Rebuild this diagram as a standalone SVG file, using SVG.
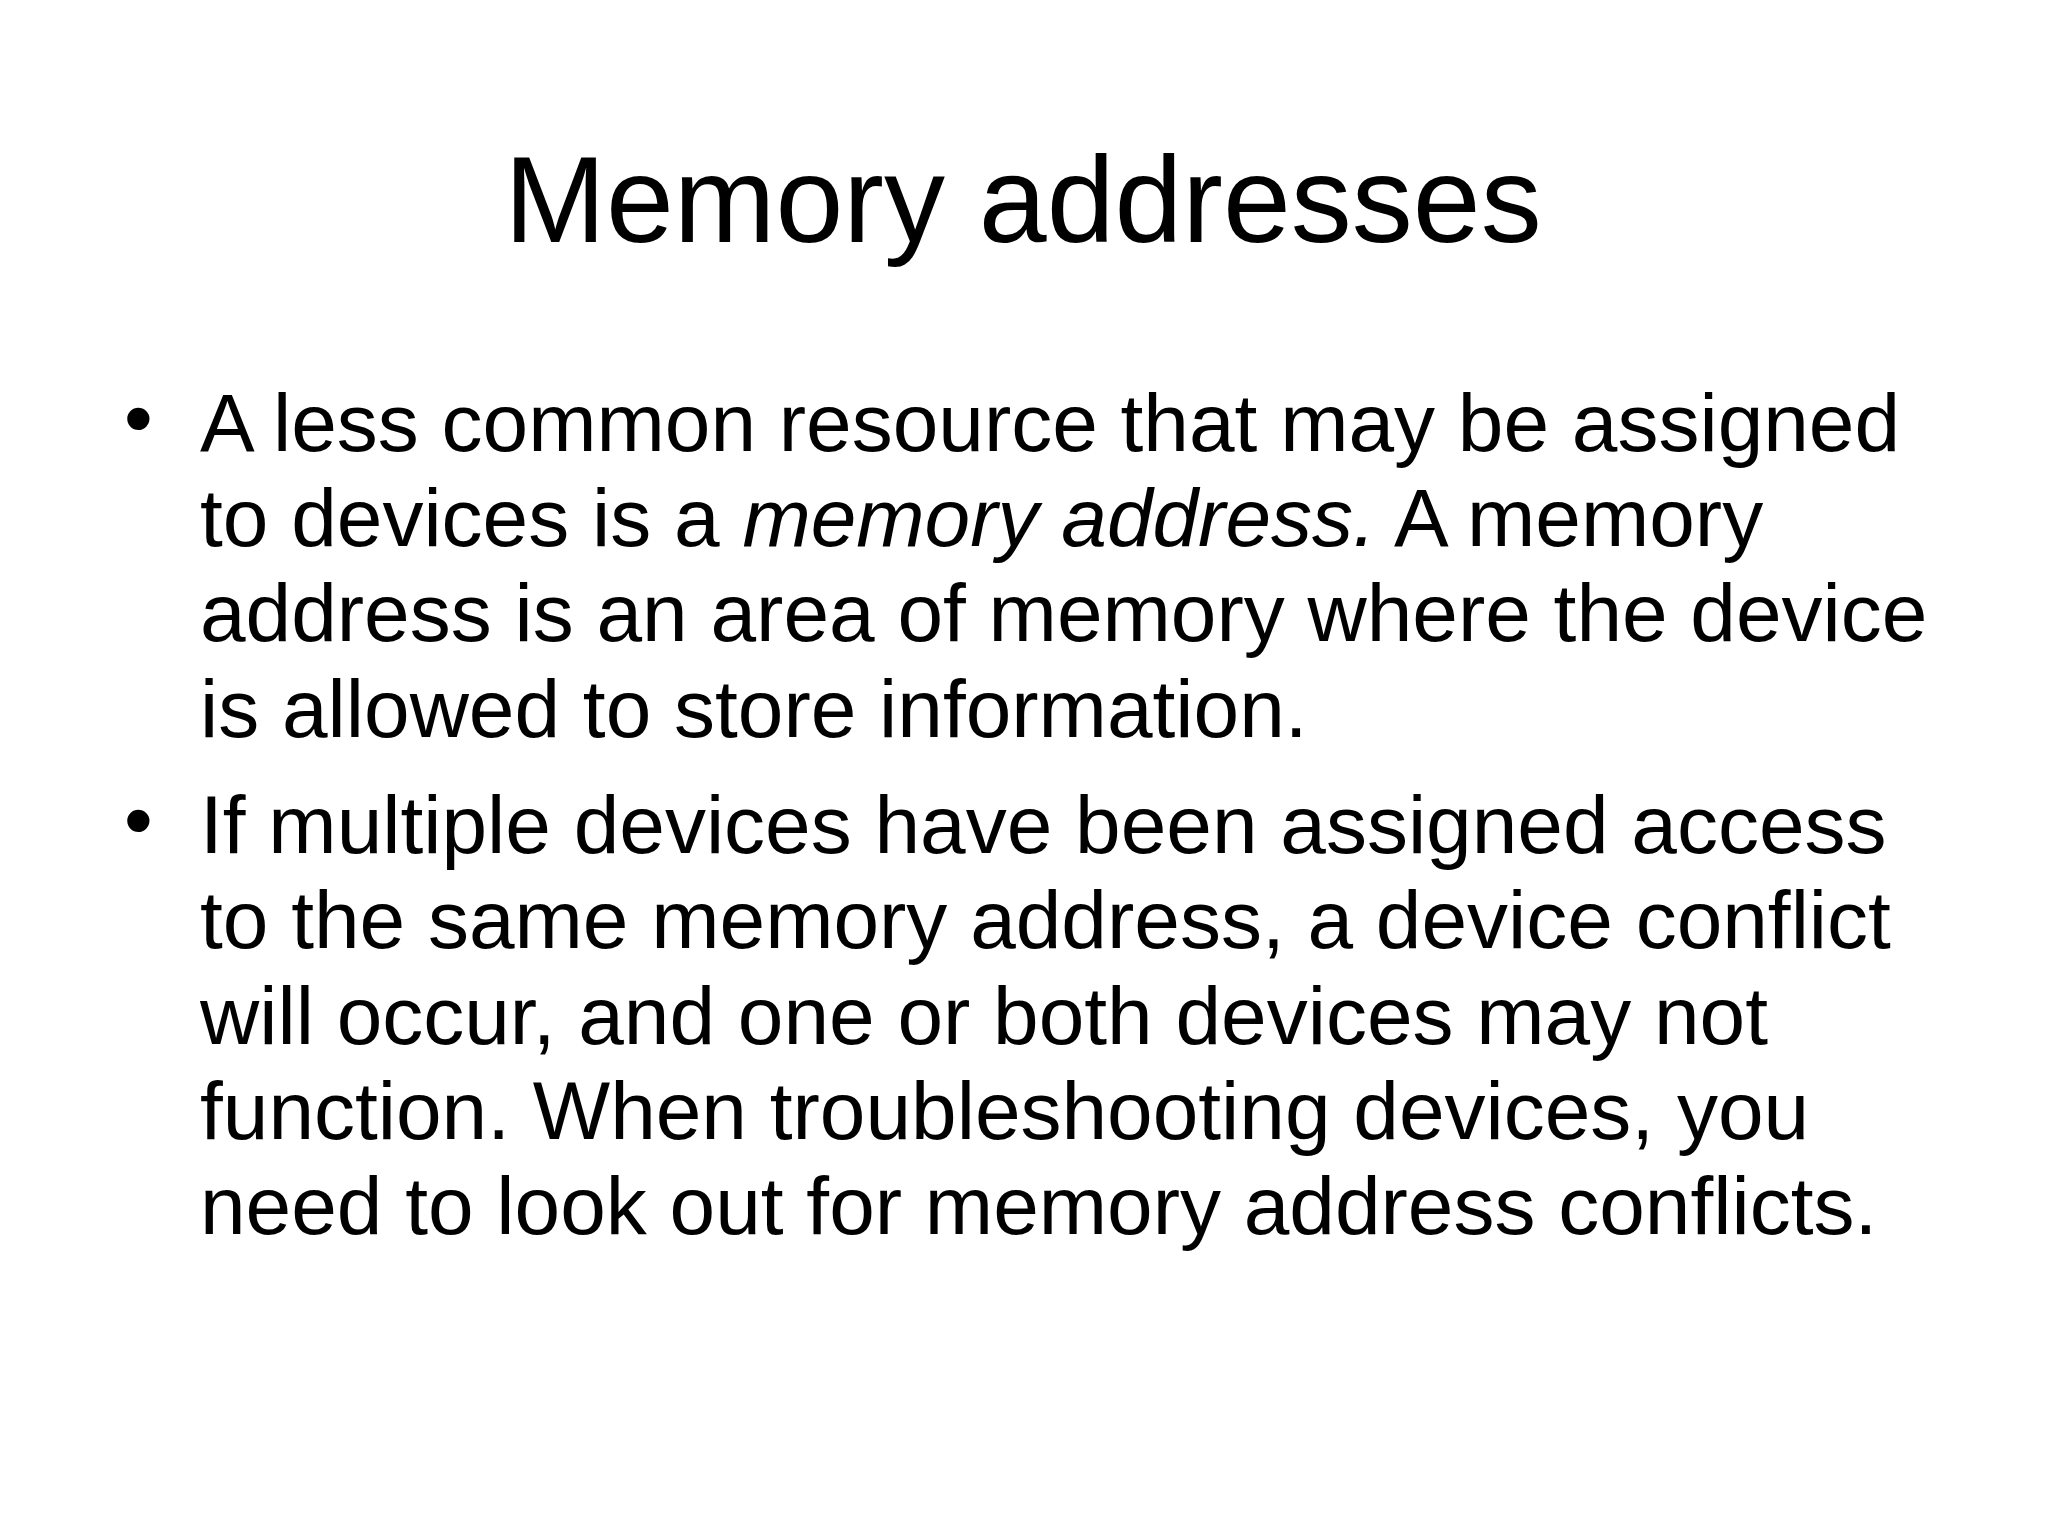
<svg xmlns="http://www.w3.org/2000/svg" width="2048" height="1536" viewBox="0 0 2048 1536">
<style>
.t{font-family:"Liberation Sans",Arial,sans-serif;fill:#000}
.b{font-size:82px}
</style>
<rect width="2048" height="1536" fill="#fff"/>
<g id="title"><text class="t" x="1023" y="242" font-size="122" text-anchor="middle">Memory addresses</text></g>
<g id="bullet1" class="t b">
<text x="124" y="446">•</text>
<text x="200" y="451">A less common resource that may be assigned</text>
<text x="200" y="546">to devices is a <tspan font-style="italic">memory address.</tspan> A memory</text>
<text x="200" y="641">address is an area of memory where the device</text>
<text x="200" y="737">is allowed to store information.</text>
</g>
<g id="bullet2" class="t b">
<text x="124" y="848">•</text>
<text x="200" y="853">If multiple devices have been assigned access</text>
<text x="200" y="948">to the same memory address, a device conflict</text>
<text x="200" y="1044">will occur, and one or both devices may not</text>
<text x="200" y="1139">function. When troubleshooting devices, you</text>
<text x="200" y="1234">need to look out for memory address conflicts.</text>
</g>
</svg>
